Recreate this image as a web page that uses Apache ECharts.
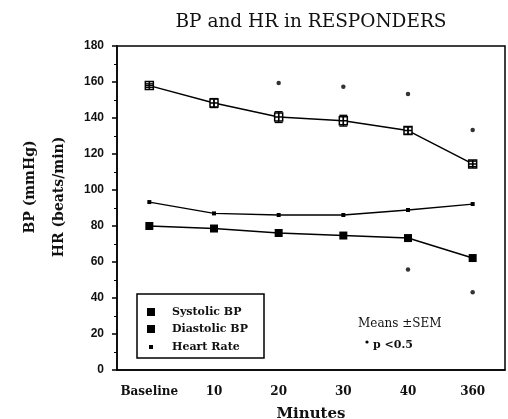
<!DOCTYPE html>
<html><head><meta charset="utf-8">
<script src="https://cdn.jsdelivr.net/npm/echarts@6/dist/echarts.min.js"></script>
<style>html,body{margin:0;padding:0;background:#fff}#c{width:508px;height:419px}</style>
</head><body><div id="c"></div>
<script>
const categories = ['Baseline', '10', '20', '30', '40', '360'];
const systolic = [158, 148.3, 140.5, 138.5, 133, 114.5];
const systolicErr = [1, 2.5, 3, 3, 2, 1.5];
const diastolic = [80, 78.6, 76.1, 74.7, 73.3, 62.2];
const heartRate = [93.3, 87, 86.1, 86.1, 88.9, 92.2];
const sysStars = ['-', '-', 159.4, 157.4, 153.3, 133.3];
const diaStars = ['-', '-', '-', '-', 55.8, 43.2];
const yTicks = [0, 20, 40, 60, 80, 100, 120, 140, 160, 180];

const serif = '"DejaVu Serif", "Liberation Serif", serif';
const chart = echarts.init(document.getElementById('c'));
const errData = systolic.map((v, i) => [i, v - systolicErr[i], v + systolicErr[i]]);

chart.setOption({
  animation: false,
  grid: { left: 117, right: 3, top: 46, bottom: 49, outerBoundsMode: 'none', containLabel: false,
    show: true, borderColor: '#000', borderWidth: 1.5, backgroundColor: 'transparent' },
  title: { text: 'BP and HR in RESPONDERS', left: 306, top: 8, textAlign: 'center',
    textStyle: { fontFamily: serif, fontSize: 18.5, fontWeight: 'normal', color: '#111' } },
  xAxis: [{
    type: 'category', data: categories, boundaryGap: true,
    axisLine: { lineStyle: { color: '#000', width: 1.5 } },
    axisTick: { alignWithLabel: true, length: 5, lineStyle: { color: '#000', width: 1.5 } },
    axisLabel: { interval: 0, margin: 16, color: '#111', fontFamily: serif, fontWeight: 'bold', fontSize: 12 },
    name: 'Minutes', nameLocation: 'middle', nameGap: 37,
    nameTextStyle: { fontFamily: serif, fontSize: 15, fontWeight: 'bold', color: '#111' }
  }, {
    type: 'category', data: categories, boundaryGap: true, position: 'bottom',
    axisLine: { show: false }, axisLabel: { show: false },
    axisTick: { length: 3, lineStyle: { color: '#000', width: 1 } }
  }],
  yAxis: {
    type: 'value', min: 0, max: 180, interval: 20,
    axisLine: { show: true, lineStyle: { color: '#000', width: 1.5 } },
    axisTick: { show: true, length: 5, lineStyle: { color: '#000', width: 1.5 } },
    minorTick: { show: true, splitNumber: 2, length: 3, lineStyle: { color: '#000', width: 1 } },
    splitLine: { show: false },
    axisLabel: { margin: 13, color: '#111', fontFamily: '"Liberation Sans", Arial, sans-serif', fontWeight: 'bold', fontSize: 12,
      formatter: v => yTicks.includes(v) ? String(v) : '' }
  },
  series: [
    { name: 'Systolic BP', type: 'line', data: systolic, symbol: 'path://M0,0L10,0L10,10L0,10Z M5,0L5,10 M0,5L10,5', symbolSize: 8,
      itemStyle: { color: '#fff', borderColor: '#000', borderWidth: 1.5 }, lineStyle: { color: '#000', width: 1.5 }, z: 3 },
    { name: 'Systolic SEM', type: 'custom', data: errData, z: 4,
      renderItem: (params, api) => {
        const x = api.coord([api.value(0), 0])[0];
        const lo = api.coord([api.value(0), api.value(1)])[1];
        const hi = api.coord([api.value(0), api.value(2)])[1];
        const st = { stroke: '#000', lineWidth: 1.3 };
        return { type: 'group', children: [
          { type: 'line', shape: { x1: x, y1: lo, x2: x, y2: hi }, style: st },
          { type: 'line', shape: { x1: x - 4, y1: lo, x2: x + 4, y2: lo }, style: st },
          { type: 'line', shape: { x1: x - 4, y1: hi, x2: x + 4, y2: hi }, style: st }
        ]};
      } },
    { name: 'Diastolic BP', type: 'line', data: diastolic, symbol: 'rect', symbolSize: 8,
      itemStyle: { color: '#000' }, lineStyle: { color: '#000', width: 1.5 } },
    { name: 'Heart Rate', type: 'line', data: heartRate, symbol: 'rect', symbolSize: 4,
      itemStyle: { color: '#000' }, lineStyle: { color: '#000', width: 1.3 } },
    { name: 'Systolic p', type: 'scatter', data: sysStars, symbol: 'circle', symbolSize: 4.5, itemStyle: { color: '#000' } },
    { name: 'Diastolic p', type: 'scatter', data: diaStars, symbol: 'circle', symbolSize: 4.5, itemStyle: { color: '#000' } }
  ],
  graphic: [
    { type: 'group', children: [
      { type: 'text', x: 30, y: 187, rotation: Math.PI / 2, style: { text: 'BP (mmHg)', fontFamily: serif, fontSize: 14, fill: '#111', align: 'center', verticalAlign: 'middle', fontWeight: 'bold' } },
      { type: 'text', x: 59, y: 197, rotation: Math.PI / 2, style: { text: 'HR (beats/min)', fontFamily: serif, fontSize: 14, fill: '#111', align: 'center', verticalAlign: 'middle', fontWeight: 'bold' } },
      { type: 'rect', shape: { x: 137, y: 294, width: 127, height: 64 }, style: { fill: '#fff', stroke: '#000', lineWidth: 1.5 } },
      { type: 'rect', shape: { x: 147, y: 308, width: 8, height: 8 }, style: { fill: '#000' } },
      { type: 'rect', shape: { x: 147, y: 325, width: 8, height: 8 }, style: { fill: '#000' } },
      { type: 'rect', shape: { x: 149, y: 345, width: 4, height: 4 }, style: { fill: '#000' } },
      { type: 'text', x: 172, y: 312, style: { text: 'Systolic BP', fontFamily: serif, fontSize: 11, fontWeight: 'bold', fill: '#111', verticalAlign: 'middle' } },
      { type: 'text', x: 172, y: 329, style: { text: 'Diastolic BP', fontFamily: serif, fontSize: 11, fontWeight: 'bold', fill: '#111', verticalAlign: 'middle' } },
      { type: 'text', x: 172, y: 347, style: { text: 'Heart Rate', fontFamily: serif, fontSize: 11, fontWeight: 'bold', fill: '#111', verticalAlign: 'middle' } },
      { type: 'text', x: 358, y: 324, style: { text: 'Means \u00b1SEM', fontFamily: serif, fontSize: 12, fill: '#111', verticalAlign: 'middle' } },
      { type: 'circle', shape: { cx: 367, cy: 342, r: 1.6 }, style: { fill: '#000' } },
      { type: 'text', x: 373, y: 345, style: { text: 'p <0.5', fontFamily: serif, fontSize: 11, fontWeight: 'bold', fill: '#111', verticalAlign: 'middle' } }
    ] }
  ]
});
</script></body></html>
